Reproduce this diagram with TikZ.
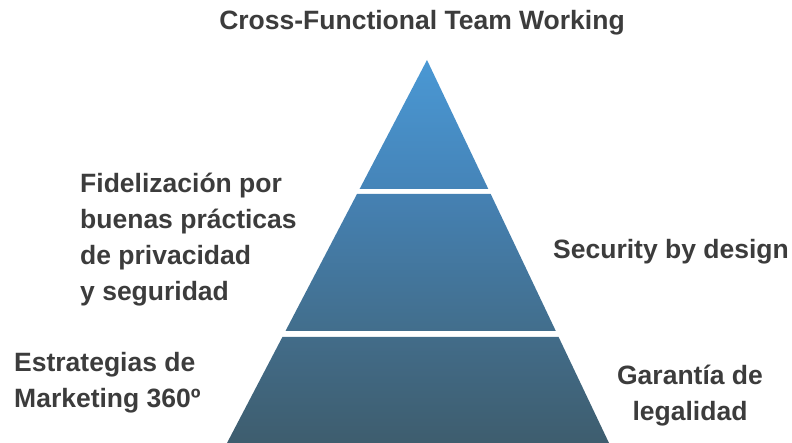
\documentclass[tikz,border=0pt]{standalone}
\usepackage{fontspec}
\setmainfont{Liberation Sans}
\usetikzlibrary{positioning}

\definecolor{apexblue}{HTML}{4A98D4}
\definecolor{tieroneend}{HTML}{4584B8}
\definecolor{tiertwotop}{HTML}{4581B3}
\definecolor{tiertwoend}{HTML}{426E8C}
\definecolor{tierthreetop}{HTML}{426C89}
\definecolor{baseslate}{HTML}{3E5D6E}
\definecolor{textgray}{HTML}{3C3C3C}

\tikzset{
  pyramid label/.style={font=\bfseries\fontsize{26.5}{36}\selectfont, text=textgray, inner sep=0pt}
}

\begin{document}
\begin{tikzpicture}[x=1pt,y=-1pt]
\useasboundingbox (0,0) rectangle (792,443);

% pyramid tiers
\shade[top color=apexblue,bottom color=tieroneend] (427,60) -- (488.3,189) -- (359.6,189) -- cycle;
\shade[top color=tiertwotop,bottom color=tiertwoend] (357.0,194) -- (490.7,194) -- (555.8,331) -- (285.5,331) -- cycle;
\shade[top color=tierthreetop,bottom color=baseslate] (282.4,337) -- (558.6,337) -- (609,443) -- (227,443) -- cycle;

% labels
\node[pyramid label] (team) at (422,23) {Cross-Functional Team Working};
\node[pyramid label, align=left, anchor=west] (loyalty) at (80,240) {Fidelización por\\buenas prácticas\\de privacidad\\y seguridad};
\node[pyramid label, anchor=west] (security) at (553,252) {Security by design};
\node[pyramid label, align=left, anchor=west] (marketing) at (14,383) {Estrategias de\\Marketing 360º};
\node[pyramid label, align=center] (legal) at (690,396) {Garantía de\\legalidad};
\end{tikzpicture}
\end{document}
